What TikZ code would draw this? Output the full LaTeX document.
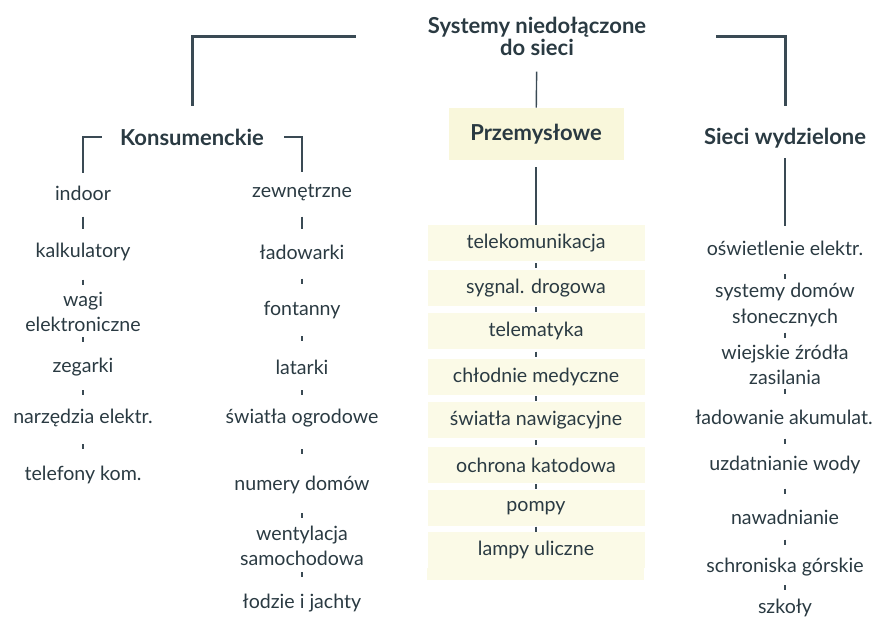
\documentclass[tikz,border=0pt]{standalone}
\usepackage{fontspec}
\setmainfont{Lato}
\usepackage{xcolor}
\usepackage{tikz}
\usetikzlibrary{calc}
\definecolor{ink}{RGB}{42,58,66}
\definecolor{rule}{RGB}{58,74,84}
\definecolor{band}{RGB}{251,250,231}
\definecolor{boxfill}{RGB}{249,247,219}
\tikzset{every node/.append style={text=ink}}
\tikzset{
  item/.style={font=\fontsize{9.8}{12.6}\selectfont, align=center, inner sep=1pt},
  head/.style={font=\fontsize{11}{13}\selectfont\bfseries, align=center, inner sep=1pt},
  strip/.style={item, fill=band, minimum width=108.5pt, minimum height=18pt},
  link/.style={draw=rule, line width=1pt,
    to path={($(\tikztostart)!.5!(\tikztotarget)$) +(0,-#1) -- +(0,#1)}},
  link/.default=2.5,
  rail/.style={draw=rule, line width=1.5pt},
  stem/.style={draw=rule, line width=0.8pt},
}

\begin{document}
\begin{tikzpicture}[x=0.5pt, y=-0.5pt]
    \useasboundingbox (0,0) rectangle (873,618);
    % headings
    \node[head, font=\fontsize{11}{9.8}\selectfont\bfseries] (title) at (537,36) {Systemy niedołączone\\do sieci};
    \node[head] (kons) at (192,137) {Konsumenckie};
    \node[head, fill=boxfill, minimum width=87.5pt, minimum height=26pt] (prz) at (536,134) {Przemysłowe};
    \node[head] (sieci) at (785,138) {Sieci wydzielone};
    \draw[rail, shorten <=35pt, shorten >=10pt] (title) -| (kons);
    \draw[rail, shorten <=34pt, shorten >=10pt] (title) -| (sieci);
    \draw[stem, line width=0.7pt, shorten <=7pt] (title) -- (prz);

    % konsumenckie
    \node[item] (indoor) at (83,193) {indoor};
    \node[item] (kalk) at (83,252) {kalkulatory};
    \node[item] (wagi) at (83,312) {wagi\\elektroniczne};
    \node[item] (zeg) at (83,367) {zegarki};
    \node[item] (narz) at (83,418) {narzędzia elektr.};
    \node[item] (tel) at (83,475) {telefony kom.};
    \node[item] (zewn) at (302,193) {zewnętrzne};
    \node[item] (ladow) at (302,252) {ładowarki};
    \node[item] (font) at (302,310) {fontanny};
    \node[item] (lat) at (302,367) {latarki};
    \node[item] (ogr) at (302,418) {światła ogrodowe};
    \node[item] (num) at (302,485) {numery domów};
    \node[item] (went) at (302,546) {wentylacja\\samochodowa};
    \node[item] (lodz) at (302,603) {łodzie i jachty};
    \draw[stem, line width=1pt, shorten <=8pt, shorten >=5pt] (kons) -| (indoor);
    \draw[stem, line width=1pt, shorten <=9pt, shorten >=5pt] (kons) -| (zewn);
    \draw[link=6] (indoor) to (kalk);
    \draw[link] (kalk) to (wagi) (wagi) to (zeg) (zeg) to (narz) (narz) to (tel);
    \draw[link=6] (zewn) to (ladow);
    \draw[link] (ladow) to (font) (font) to (lat) (lat) to (ogr) (ogr) to (num)
        (num) to (went) (went) to (lodz);

    % przemyslowe
    \node[strip] (tele) at (536,243) {telekomunikacja};
    \node[strip] (syg) at (536,288) {sygnal. drogowa};
    \node[strip] (telem) at (536,331) {telematyka};
    \node[strip] (chl) at (536,377) {chłodnie medyczne};
    \node[strip] (naw) at (536,420) {światła nawigacyjne};
    \node[strip] (ochr) at (536,465) {ochrona katodowa};
    \node[strip] (pomp) at (536,508) {pompy};
    \node[strip] (lamp) at (536,550) {lampy uliczne};
    \fill[band] (lamp.south west) rectangle ++(217,12);
    \draw[stem, shorten <=3.5pt] (prz) -- (tele);
    \draw[link] (tele) to (syg) (syg) to (telem) (telem) to (chl) (chl) to (naw)
        (naw) to (ochr) (ochr) to (pomp) (pomp) to (lamp);

    % sieci wydzielone
    \node[item] (osw) at (785,248) {oświetlenie elektr.};
    \node[item] (dom) at (785,305) {systemy domów\\słonecznych};
    \node[item] (wiej) at (785,365) {wiejskie źródła\\zasilania};
    \node[item] (akum) at (784,417) {ładowanie akumulat.};
    \node[item] (uzd) at (785,465) {uzdatnianie wody};
    \node[item] (nawad) at (785,517) {nawadnianie};
    \node[item] (schr) at (785,567) {schroniska górskie};
    \node[item] (szk) at (785,608) {szkoły};
    \draw[stem, shorten <=4pt, shorten >=6pt] (sieci) -- (osw);
    \draw[link] (osw) to (dom) (dom) to (wiej) (wiej) to (akum) (akum) to (uzd)
        (uzd) to (nawad) (nawad) to (schr) (schr) to (szk);
\end{tikzpicture}
\end{document}
